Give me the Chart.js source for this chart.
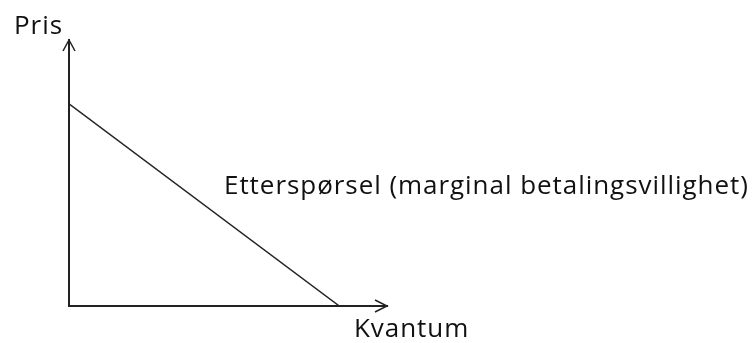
<!DOCTYPE html>
<html>
<head>
<meta charset="utf-8">
<script src="https://cdn.jsdelivr.net/npm/chart.js@4/dist/chart.umd.min.js"></script>
<style>
  html, body { margin: 0; padding: 0; background: #fff; }
  #wrap { width: 753px; height: 343px; }
</style>
</head>
<body>
<div id="wrap"><canvas id="demand"></canvas></div>
<script>
// demand curve: price falls linearly to zero
var quantity = [0, 85];
var price = [76, 0];
var axisMax = [100, 100]; // x, y

var xLabel = "Kvantum";
var yLabel = "Pris";
var curveLabel = "Etterspørsel (marginal betalingsvillighet)";

var points = quantity.map(function (q, i) { return { x: q, y: price[i] }; });

var font = '26px "Open Sans", sans-serif';
var ink = '#222';

// arrowheads on the axes plus the three text labels
var paintPlugin = {
    id: 'paint',
    afterDraw: function (chart) {
        var ctx = chart.ctx;
        var xs = chart.scales.x, ys = chart.scales.y;
        var x0 = xs.getPixelForValue(0), y0 = ys.getPixelForValue(0);
        var xEnd = xs.getPixelForValue(axisMax[0]);
        var yEnd = ys.getPixelForValue(axisMax[1]);

        ctx.save();
        ctx.strokeStyle = ink;
        ctx.lineWidth = 1.5;
        ctx.beginPath();
        // up arrow
        ctx.moveTo(x0 - 6, yEnd + 11);
        ctx.lineTo(x0, yEnd);
        ctx.lineTo(x0 + 6, yEnd + 11);
        // right arrow
        ctx.moveTo(xEnd - 12, y0 - 6);
        ctx.lineTo(xEnd, y0);
        ctx.lineTo(xEnd - 12, y0 + 6);
        ctx.stroke();

        ctx.fillStyle = '#111';
        ctx.font = font;
        ctx.letterSpacing = '0.95px';
        ctx.textBaseline = 'alphabetic';
        ctx.fillText(yLabel, x0 - 55, yEnd - 6);
        ctx.fillText(xLabel, x0 + 285, y0 + 31);
        ctx.fillText(curveLabel, x0 + 155, ys.getPixelForValue(42.1));
        ctx.restore();
    }
};

var canvas = document.getElementById("demand");
var ctx = canvas.getContext('2d');

var chart = new Chart(ctx, {
    type: 'scatter',
    data: {
        datasets: [{
            data: points,
            showLine: true,
            borderColor: ink,
            borderWidth: 1.5,
            pointRadius: 0,
            fill: false
        }]
    },
    options: {
        responsive: true,
        maintainAspectRatio: false,
        animation: false,
        layout: { padding: { left: 69, top: 40, right: 366, bottom: 37 } },
        plugins: { legend: { display: false }, tooltip: { enabled: false } },
        scales: {
            x: {
                type: 'linear', min: 0, max: axisMax[0],
                grid: { display: false, drawTicks: false },
                ticks: { display: false, padding: 0 },
                border: { display: true, color: ink, width: 2 }
            },
            y: {
                type: 'linear', min: 0, max: axisMax[1],
                grid: { display: false, drawTicks: false },
                ticks: { display: false, padding: 0 },
                border: { display: true, color: ink, width: 2 }
            }
        }
    },
    plugins: [paintPlugin]
});
</script>
</body>
</html>
